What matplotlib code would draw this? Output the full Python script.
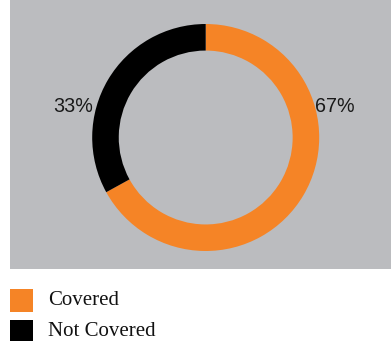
import matplotlib
matplotlib.use('Agg')
import matplotlib.pyplot as plt
from matplotlib.patches import Rectangle

# data
labels = ['Covered', 'Not Covered']
values = [67, 33]
colors = ['#F58426', '#000000']
bg_gray = '#BBBCBF'

W, H = 391, 341
fig = plt.figure(figsize=(W / 100, H / 100), dpi=100, facecolor='white')

# gray panel behind the donut
bg = fig.add_axes([10 / W, (H - 269) / H, 1 - 10 / W, 269 / H], zorder=0)
bg.set_facecolor(bg_gray)
bg.set_xticks([])
bg.set_yticks([])
for s in bg.spines.values():
    s.set_visible(False)

# donut axes, radius 1 -> 113.5 px
cx, cy, r_px, side = 205.7, H - 137.5, 113.5, 300
ax = fig.add_axes([(cx - side / 2) / W, (cy - side / 2) / H, side / W, side / H],
                  zorder=1)
ax.set_facecolor('none')
lim = side / 2 / r_px
wedges, _ = ax.pie(values, colors=colors, startangle=90, counterclock=False,
                   radius=1, wedgeprops=dict(width=0.234, edgecolor='none'))
ax.set_xlim(-lim, lim)
ax.set_ylim(-lim, lim)
ax.set_aspect('equal')
ax.axis('off')

# percentage labels
pct_pos = [(1.139, 0.2775), (-1.169, 0.2775)]
for v, (x, y) in zip(values, pct_pos):
    ax.text(x, y, f'{v}%', ha='center', va='center', fontsize=14.2,
            family='Liberation Sans', color='#1a1a1a', clip_on=False)

# legend, drawn by hand (pixel positions from the top)
leg_rows = [289, 320]
for lab, c, top in zip(labels, colors, leg_rows):
    fig.patches.append(Rectangle((10 / W, (H - top - 23) / H), 23 / W, 23 / H,
                                 transform=fig.transFigure, facecolor=c,
                                 edgecolor='none'))
    fig.text(48 / W, (H - top - 16) / H, lab, ha='left', va='baseline',
             family='Liberation Serif', fontsize=15, color='#111111')

fig.savefig('out.png', dpi=100, facecolor='white')
